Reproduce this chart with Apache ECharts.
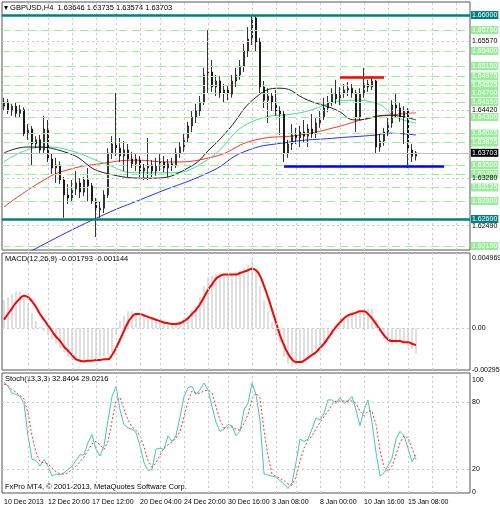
<!DOCTYPE html>
<html><head><meta charset="utf-8">
<script src="https://cdn.jsdelivr.net/npm/echarts@6/dist/echarts.min.js"></script>
<style>html,body{margin:0;padding:0;background:#fff}#grafico{width:500px;height:510px}</style>
</head><body><div id="grafico"></div>
<script>
// GBPUSD H4 candles: [open, close, low, high]
var candles = [
  [1.6448,1.6455,1.6440,1.6462],[1.6455,1.6440,1.6435,1.6460],[1.6440,1.6448,1.6432,1.6452],[1.6448,1.6436,1.6430,1.6455],
  [1.6436,1.6442,1.6430,1.6450],[1.6442,1.6402,1.6398,1.6446],[1.6402,1.6410,1.6392,1.6418],[1.6410,1.6385,1.6350,1.6415],
  [1.6385,1.6392,1.6378,1.6398],[1.6392,1.6375,1.6370,1.6400],[1.6375,1.6410,1.6368,1.6432],[1.6410,1.6360,1.6355,1.6425],
  [1.6360,1.6345,1.6335,1.6370],[1.6345,1.6350,1.6320,1.6362],[1.6350,1.6325,1.6318,1.6356],[1.6325,1.6300,1.6262,1.6330],
  [1.6300,1.6295,1.6285,1.6318],[1.6295,1.6310,1.6288,1.6325],[1.6310,1.6320,1.6300,1.6340],[1.6320,1.6305,1.6295,1.6328],
  [1.6305,1.6325,1.6298,1.6330],[1.6325,1.6315,1.6290,1.6345],[1.6315,1.6290,1.6285,1.6320],[1.6290,1.6275,1.6230,1.6295],
  [1.6275,1.6278,1.6262,1.6290],[1.6278,1.6300,1.6270,1.6308],[1.6300,1.6370,1.6295,1.6378],[1.6370,1.6385,1.6360,1.6398],
  [1.6385,1.6378,1.6365,1.6470],[1.6378,1.6365,1.6355,1.6395],[1.6365,1.6375,1.6340,1.6390],[1.6375,1.6360,1.6330,1.6385],
  [1.6360,1.6352,1.6345,1.6372],[1.6352,1.6360,1.6340,1.6368],[1.6360,1.6340,1.6330,1.6365],[1.6340,1.6345,1.6325,1.6352],
  [1.6345,1.6350,1.6325,1.6395],[1.6350,1.6340,1.6330,1.6358],[1.6340,1.6348,1.6332,1.6362],[1.6348,1.6355,1.6340,1.6368],
  [1.6355,1.6345,1.6338,1.6365],[1.6345,1.6352,1.6330,1.6360],[1.6352,1.6350,1.6340,1.6362],[1.6350,1.6370,1.6345,1.6378],
  [1.6370,1.6380,1.6362,1.6388],[1.6380,1.6395,1.6372,1.6402],[1.6395,1.6415,1.6388,1.6422],[1.6415,1.6430,1.6405,1.6440],
  [1.6430,1.6440,1.6420,1.6452],[1.6440,1.6455,1.6432,1.6465],[1.6455,1.6500,1.6450,1.6512],[1.6500,1.6505,1.6470,1.6575],
  [1.6505,1.6480,1.6472,1.6525],[1.6480,1.6490,1.6465,1.6500],[1.6490,1.6470,1.6462,1.6498],[1.6470,1.6475,1.6455,1.6485],
  [1.6475,1.6468,1.6458,1.6482],[1.6468,1.6490,1.6462,1.6500],[1.6490,1.6500,1.6480,1.6512],[1.6500,1.6515,1.6492,1.6525],
  [1.6515,1.6540,1.6505,1.6552],[1.6540,1.6560,1.6530,1.6580],[1.6560,1.6595,1.6550,1.6600],[1.6595,1.6555,1.6540,1.6600],
  [1.6555,1.6480,1.6470,1.6562],[1.6480,1.6458,1.6445,1.6490],[1.6458,1.6465,1.6420,1.6478],[1.6465,1.6455,1.6440,1.6470],
  [1.6455,1.6440,1.6432,1.6475],[1.6440,1.6435,1.6400,1.6448],[1.6435,1.6370,1.6355,1.6440],[1.6370,1.6385,1.6362,1.6392],
  [1.6385,1.6400,1.6375,1.6418],[1.6400,1.6395,1.6385,1.6412],[1.6395,1.6405,1.6380,1.6415],[1.6405,1.6398,1.6388,1.6425],
  [1.6398,1.6410,1.6380,1.6418],[1.6410,1.6402,1.6395,1.6435],[1.6402,1.6420,1.6395,1.6428],[1.6420,1.6430,1.6412,1.6440],
  [1.6430,1.6445,1.6425,1.6462],[1.6445,1.6455,1.6438,1.6465],[1.6455,1.6468,1.6448,1.6478],[1.6468,1.6460,1.6452,1.6492],
  [1.6460,1.6470,1.6450,1.6480],[1.6470,1.6475,1.6462,1.6485],[1.6475,1.6478,1.6465,1.6488],[1.6478,1.6470,1.6462,1.6485],
  [1.6470,1.6430,1.6405,1.6475],[1.6430,1.6470,1.6425,1.6478],[1.6470,1.6485,1.6462,1.6512],[1.6485,1.6480,1.6472,1.6492],
  [1.6480,1.6490,1.6475,1.6497],[1.6490,1.6380,1.6370,1.6492],[1.6380,1.6390,1.6372,1.6402],[1.6390,1.6405,1.6382,1.6412],
  [1.6405,1.6420,1.6398,1.6428],[1.6420,1.6450,1.6412,1.6458],[1.6450,1.6445,1.6430,1.6470],[1.6445,1.6430,1.6422,1.6455],
  [1.6430,1.6440,1.6385,1.6448],[1.6440,1.6375,1.6345,1.6445],[1.6375,1.63646,1.6355,1.6385],[1.63646,1.63703,1.63574,1.63735]
];
// moving averages, read at a few bars: [barIndex, price]
var maBlue  = [[5,1.6200],[22,1.6258],[37,1.6300],[52,1.6340],[60,1.6372],[70,1.6387],[83,1.6395],[93,1.6400],[96,1.6403],[103,1.6400]];
var maRed   = [[0,1.6280],[10,1.6325],[16,1.6342],[25,1.6353],[33,1.6358],[41,1.6355],[52,1.6363],[63,1.6392],[74,1.6400],[83,1.6413],[91,1.6428],[96,1.6433],[103,1.6437]];
var maGreen = [[0,1.6355],[10,1.6380],[16,1.6375],[25,1.6353],[33,1.6337],[41,1.6337],[50,1.6355],[63,1.6425],[74,1.6437],[87,1.6458],[93,1.6453],[98,1.6430],[103,1.6420]];
var maBlack = [[0,1.6370],[6,1.6380],[16,1.6370],[25,1.6337],[37,1.6328],[46,1.6345],[52,1.6380],[56,1.6408],[63,1.6463],[69,1.6478],[76,1.6458],[83,1.6442],[88,1.6425],[96,1.6433],[103,1.6425]];

var macdHist = [
  0.0020,0.0022,0.0024,0.0026,0.0026,0.0024,0.0018,0.0011,0.0005,0.0001,
  -0.0002,-0.0005,-0.0008,-0.0011,-0.0014,-0.0017,-0.0020,-0.0022,-0.0023,-0.0024,
  -0.0023,-0.0023,-0.0022,-0.0022,-0.0021,-0.0020,-0.0019,-0.0017,-0.0004,0.0005,
  0.0009,0.0012,0.0012,0.0011,0.0010,0.0010,0.0009,0.0007,0.0006,0.0005,
  0.0004,0.0004,0.0003,0.0004,0.0005,0.0007,0.0009,0.0013,0.0016,0.0022,
  0.0030,0.0036,0.0037,0.0038,0.0039,0.0038,0.0038,0.0038,0.0040,0.0041,
  0.0043,0.0045,0.0048,0.0040,0.0030,0.0020,0.0012,0.0004,-0.0005,-0.0010,
  -0.0020,-0.0025,-0.0027,-0.0026,-0.0024,-0.0022,-0.0020,-0.0018,-0.0015,-0.0012,
  -0.0010,-0.0008,-0.0005,-0.0002,0.0003,0.0006,0.0008,0.0011,0.0010,0.0012,
  0.0013,0.0014,0.0014,0.0006,-0.0002,-0.0008,-0.0010,-0.0012,-0.0011,-0.0009,
  -0.0010,-0.0013,-0.0015,-0.0018
];
var macdSignal = [
  0.0006,0.0010,0.0014,0.0018,0.0021,0.0023,0.0022,0.0019,0.0015,0.0010,
  0.0006,0.0002,-0.0002,-0.0006,-0.0009,-0.0013,-0.0016,-0.0019,-0.0022,-0.0023,
  -0.00235,-0.0023,-0.0023,-0.00225,-0.00225,-0.0022,-0.0022,-0.0019,-0.0014,-0.0008,
  -0.0002,0.0004,0.0008,0.0010,0.0010,0.0009,0.0008,0.0007,0.0006,0.0005,
  0.0004,0.00035,0.0003,0.0003,0.00035,0.0005,0.0007,0.0010,0.0013,0.0017,
  0.0022,0.0027,0.0031,0.0035,0.0037,0.0038,0.0038,0.0038,0.0038,0.0039,
  0.0040,0.0041,0.0042,0.0041,0.0037,0.0030,0.0022,0.0013,0.0004,-0.0005,
  -0.0012,-0.0018,-0.0022,-0.0024,-0.0024,-0.0023,-0.0021,-0.0019,-0.0017,-0.0014,
  -0.0011,-0.0007,-0.0003,0.0001,0.0004,0.0007,0.0009,0.0010,0.0011,0.0012,
  0.0012,0.0010,0.0007,0.0003,-0.0001,-0.0005,-0.0008,-0.0009,-0.0009,-0.0009,
  -0.0010,-0.0010,-0.0011,-0.0012
];
var stochMain = [
  98,94,88,87,85,79,50,29,28,23,
  29,23,14,16,15,17,20,23,28,33,
  33,44,51,38,32,41,64,85,94,73,
  60,57,56,53,41,26,19,20,38,39,
  38,50,45,50,67,85,93,94,87,91,
  97,91,76,62,54,56,60,59,50,54,
  73,79,97,87,64,16,15,14,13,10,
  7,3,8,26,47,45,47,56,66,64,
  70,82,82,79,84,79,81,85,73,59,
  73,82,62,35,14,17,23,30,47,54,
  50,39,27,33
];
var stochSignal = [
  96,95,91,89,86,83,70,50,35,27,
  26,25,21,18,16,16,17,20,23,27,
  31,37,43,45,42,38,45,63,81,84,
  74,64,58,55,50,40,28,22,26,33,
  39,42,44,48,54,67,81,90,88,88,
  90,91,88,76,64,57,57,58,56,55,
  61,69,83,88,84,55,32,16,14,12,
  10,7,6,13,27,39,46,50,56,62,
  67,72,78,81,81,81,81,81,79,72,
  68,72,72,60,37,22,18,23,33,44,
  50,48,39,29
];
var greenLevels = [1.65750,1.65400,1.65150,1.64975,1.64825,1.64700,1.64550,1.64300,1.64025,1.63875,1.63500,1.63350,1.63125,1.62900,1.62150];
var tealLevels = [1.66000,1.62600];
var priceTicks = [1.65570,1.64420,1.63280,1.62490];
var lastPrice = 1.63703;
var resistance = 1.6497, support = 1.6348;
var timeLabels = ['10 Dec 2013','12 Dec 20:00','17 Dec 12:00','20 Dec 04:00','24 Dec 20:00','30 Dec 16:00','3 Jan 08:00','8 Jan 00:00','10 Jan 16:00','15 Jan 08:00'];
var timeIdx = [0,11,22,34,45,56,67,79,90,101];

var nCats = 117;
var cats = [];
for (var i = 0; i < nCats; i++) cats.push(String(i));

var chartDom = document.getElementById('grafico');
var myChart = echarts.init(chartDom);
var FONT = 'Liberation Sans';
function lbl(bg, fg, text) {
  return { show: true, position: 'end', distance: 1, fontSize: 7, fontFamily: FONT,
           color: fg, backgroundColor: bg, padding: [1, 1, 0, 1], formatter: text };
}
var dotted = { color: '#c8c8c8', type: [2, 3], width: 1 };
var hidden = { color: 'rgba(0,0,0,0)', width: 0.1 };

// horizontal levels in the price panel
var mkLines = [];
greenLevels.forEach(function (v) {
  mkLines.push({ yAxis: v, lineStyle: { color: '#98ee98', type: [8, 5], width: 1.2 }, label: lbl('#98ee98', '#fff', v.toFixed(5)) });
});
priceTicks.forEach(function (v) {
  mkLines.push({ yAxis: v, lineStyle: dotted, label: lbl('transparent', '#000', v.toFixed(5)) });
});
tealLevels.forEach(function (v) {
  mkLines.push({ yAxis: v, lineStyle: { color: '#008080', type: 'solid', width: 2.5 }, label: lbl('#008080', '#fff', v.toFixed(5)) });
});
mkLines.push({ yAxis: lastPrice, lineStyle: { color: '#c0c0c0', type: 'solid', width: 1 }, label: lbl('#000', '#fff', lastPrice.toFixed(5)) });
mkLines.push([{ coord: [84, resistance], lineStyle: { color: '#ff0000', type: 'solid', width: 2.5 }, label: { show: false } },
              { coord: [95, resistance] }]);
mkLines.push([{ coord: [70, support], lineStyle: { color: '#0000ff', type: 'solid', width: 2.5 }, label: { show: false } },
              { coord: [110, support] }]);

// vertical dotted grid, every ~5.6 bars
var vLines = [];
for (var k = 1; k * 5.625 < nCats; k++) vLines.push({ xAxis: Math.round(k * 5.625), lineStyle: dotted, label: { show: false } });

function xAxisFor(gi, showLabels) {
  return {
    type: 'category', data: cats, gridIndex: gi, boundaryGap: true,
    axisLine: { show: false }, axisTick: { show: false }, splitLine: { show: false },
    axisLabel: showLabels ? {
      show: true, fontSize: 7, fontFamily: FONT, color: '#000', margin: 6, align: 'left',
      showMinLabel: true, hideOverlap: false,
      interval: function (idx) { return timeIdx.indexOf(idx) >= 0; },
      formatter: function (v, idx) { return timeLabels[timeIdx.indexOf(idx)]; }
    } : { show: false }
  };
}
function yAxisFor(gi, min, max) {
  return { type: 'value', gridIndex: gi, min: min, max: max, position: 'right',
    axisLine: { show: false }, axisTick: { show: false }, axisLabel: { show: false }, splitLine: { show: false } };
}
function helper(gi, lines) {
  return { type: 'line', data: [], xAxisIndex: gi, yAxisIndex: gi, silent: true,
    markLine: { symbol: 'none', silent: true, animation: false, precision: 8, data: lines } };
}
function maSeries(data, color) {
  return { type: 'line', data: data, xAxisIndex: 0, yAxisIndex: 0, smooth: true, symbol: 'none',
    lineStyle: { color: color, width: 1 }, silent: true, z: 3 };
}
var smallText = { fontSize: 7.5, fontFamily: FONT, fill: '#000' };

var option = {
  animation: false,
  backgroundColor: '#fff',
  grid: [
    { left: 2, right: 30, top: 2, height: 248, show: true, borderColor: '#555', borderWidth: 1 },
    { left: 2, right: 30, top: 253, height: 117, show: true, borderColor: '#555', borderWidth: 1 },
    { left: 2, right: 30, top: 373, height: 120, show: true, borderColor: '#555', borderWidth: 1 }
  ],
  xAxis: [xAxisFor(0, false), xAxisFor(1, false), xAxisFor(2, true)],
  yAxis: [yAxisFor(0, 1.62083, 1.66217), yAxisFor(1, -0.00296, 0.00532), yAxisFor(2, -1, 106)],
  graphic: [
    { type: 'text', left: 4, top: 4, style: Object.assign({ text: '\u25BE GBPUSD,H4  1.63646 1.63735 1.63574 1.63703' }, smallText) },
    { type: 'text', left: 5, top: 255, style: Object.assign({ text: 'MACD(12,26,9) -0.001793 -0.001144' }, smallText) },
    { type: 'text', left: 5, top: 375, style: Object.assign({ text: 'Stoch(13,3,3) 32.8404 29.0216' }, smallText) },
    { type: 'text', left: 5, top: 483, style: Object.assign({ text: 'FxPro MT4, \u00A9 2001-2013, MetaQuotes Software Corp.' }, smallText) }
  ],
  series: [
    helper(0, vLines.concat(mkLines)),
    helper(1, vLines.concat([
      { yAxis: 0, lineStyle: dotted, label: lbl('transparent', '#000', '0.00') },
      { yAxis: 0.004969, lineStyle: hidden, label: lbl('transparent', '#000', '0.004969') },
      { yAxis: -0.002954, lineStyle: hidden, label: lbl('transparent', '#000', '-0.002954') }
    ])),
    helper(2, vLines.concat([
      { yAxis: 80, lineStyle: dotted, label: lbl('transparent', '#000', '80') },
      { yAxis: 20, lineStyle: dotted, label: lbl('transparent', '#000', '20') },
      { yAxis: 100, lineStyle: hidden, label: lbl('transparent', '#000', '100') },
      { yAxis: 0, lineStyle: hidden, label: lbl('transparent', '#000', '0') }
    ])),
    { type: 'candlestick', data: candles, xAxisIndex: 0, yAxisIndex: 0, barWidth: 2, z: 4,
      itemStyle: { color: '#ffffff', color0: '#000000', borderColor: '#000000', borderColor0: '#000000', borderWidth: 0.8 } },
    maSeries(maBlue, '#2a2aff'),
    maSeries(maRed, '#ff3030'),
    maSeries(maGreen, '#40e090'),
    maSeries(maBlack, '#222222'),
    { type: 'bar', data: macdHist, xAxisIndex: 1, yAxisIndex: 1, barWidth: 1, itemStyle: { color: '#c0c0c0' } },
    { type: 'line', data: macdSignal, xAxisIndex: 1, yAxisIndex: 1, smooth: true, symbol: 'none',
      lineStyle: { color: '#ff0000', width: 2 } },
    { type: 'line', data: stochMain, xAxisIndex: 2, yAxisIndex: 2, symbol: 'none',
      lineStyle: { color: '#40c8b8', width: 1 } },
    { type: 'line', data: stochSignal, xAxisIndex: 2, yAxisIndex: 2, symbol: 'none',
      lineStyle: { color: '#ff3030', width: 1, type: [2, 2] } }
  ]
};

option && myChart.setOption(option);
</script>
</body></html>
